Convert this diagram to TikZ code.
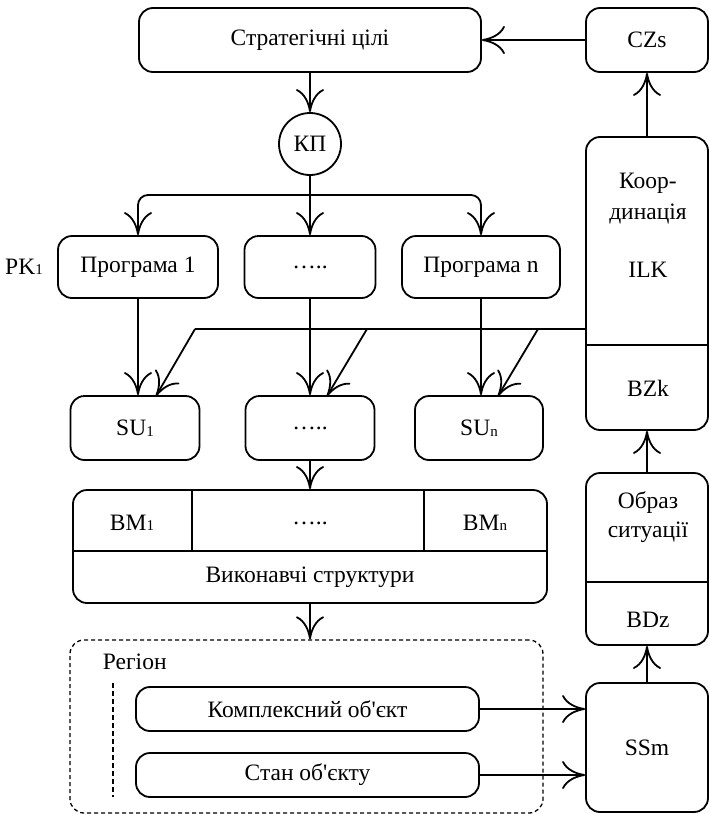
\documentclass[tikz,border=0pt]{standalone}
\usepackage{fontspec}
\setmainfont{Liberation Serif}
\newfontfamily\labelfont{Liberation Serif}
\usetikzlibrary{arrows.meta}
% small index digit/letter set on the baseline
\newcommand{\lowidx}[1]{\raisebox{-0.5pt}{\fontsize{15}{15}\selectfont #1}}
\begin{document}
\begin{tikzpicture}[x=1pt,y=-1pt,line width=1.8pt,
  font=\labelfont\fontsize{23.5}{28}\selectfont,
  blk/.style={draw,rounded corners=14pt,inner sep=0pt},
  lbl/.style={inner sep=0pt},
  arr/.style={-{Computer Modern Rightarrow[length=23pt,width=28pt]}}]
\useasboundingbox (0,0) rectangle (709,814);

% --- top: goals, programme cluster
\node[blk,minimum width=342pt,minimum height=64pt] (goals) at (310,40) {Стратегічні цілі};
\node[blk,minimum width=122pt,minimum height=64pt] (czs) at (647,40) {CZs};
\node[draw,circle,minimum size=62pt,inner sep=0pt] (kp) at (310,144) {КП};
\coordinate (split) at (310,195);

\node[lbl] (pk) at (24,267) {PK\lowidx{1}};
\node[blk,minimum width=160pt,minimum height=62pt] (prog1) at (138,267) {Програма 1};
\node[blk,minimum width=131pt,minimum height=62pt] (prog2) at (310,267) {…..};
\node[blk,minimum width=158pt,minimum height=62pt] (progn) at (481,267) {Програма n};

\node[blk,minimum width=129pt,minimum height=64pt] (su1) at (135,428) {SU\lowidx{1}};
\node[blk,minimum width=129pt,minimum height=64pt] (su2) at (310,428) {…..};
\node[blk,minimum width=128pt,minimum height=64pt] (sun) at (479,428) {SU\lowidx{n}};

% --- executive structures block
\node[blk,minimum width=474pt,minimum height=113pt] (bm) at (310,546.5) {};
\draw (73,551) -- (547,551);
\draw (192,490) -- (192,551);
\draw (424,490) -- (424,551);
\node[lbl] (bm1) at (132,523) {BM\lowidx{1}};
\node[lbl] (bmdots) at (310,523) {…..};
\node[lbl] (bmn) at (485,523) {BM\lowidx{n}};
\node[lbl] (exec) at (310,577) {Виконавчі структури};

% --- region
\node[draw,dash pattern=on 4pt off 3pt,line width=1.3pt,rounded corners=14pt,
      minimum width=473pt,minimum height=173pt,inner sep=0pt] (region) at (306.5,726.5) {};
\node[lbl,anchor=west] (regname) at (102,662) {Регіон};
\coordinate (vtop) at (113,683);
\coordinate (vbot) at (113,797);
\draw[dash pattern=on 5pt off 3pt,line width=1.4pt] (vtop) -- (vbot);
\node[blk,minimum width=343pt,minimum height=44pt] (komplex) at (307.5,709) {Комплексний об'єкт};
\node[blk,minimum width=343pt,minimum height=44pt] (stan) at (307.5,775) {Стан об'єкту};

% --- right column
\node[blk,minimum width=122pt,minimum height=293pt] (koord) at (647,283.5) {};
\draw (586,345) -- (708,345);
\node[lbl] (koordA) at (648,183) {Коор-};
\node[lbl] (koordB) at (648,214) {динація};
\node[lbl] (ilk) at (648,270) {ILK};
\node[lbl] (bzk) at (648,388) {BZk};

\node[blk,minimum width=122pt,minimum height=172pt] (obraz) at (647,559) {};
\draw (586,582) -- (708,582);
\node[lbl] (obrazA) at (648,503) {Образ};
\node[lbl] (obrazB) at (648,532) {ситуації};
\node[lbl] (bdz) at (648,620) {BDz};

\node[blk,minimum width=122pt,minimum height=129pt] (ssm) at (647,747.5) {SSm};

% --- connectors
\draw[arr] (czs) -- (goals);
\draw[arr] (goals) -- (kp);
\draw[arr] (kp) -- (prog2);
\draw[arr,rounded corners=10pt] (split) -| (prog1.north);
\draw[arr,rounded corners=10pt] (split) -| (progn.north);

\draw[arr] (prog1.south) -- (prog1.south |- su1.north);
\draw[arr] (prog2) -- (su2);
\draw[arr] (progn.south) -- (progn.south |- sun.north);

\coordinate (d1) at (195,329);
\coordinate (d2) at (367,329);
\coordinate (d3) at (538,329);
\coordinate (t1) at (156,396);
\coordinate (t2) at (327,396);
\coordinate (t3) at (498,396);
\draw (koord.west |- d1) -- (d1);
\draw[arr] (d1) -- (t1);
\draw[arr] (d2) -- (t2);
\draw[arr] (d3) -- (t3);

\draw[arr] (su2) -- (bm);
\draw[arr] (bm.south) -- (bm.south |- region.north);

\draw[arr] (komplex.east) -- (komplex.east -| ssm.west);
\draw[arr] (stan.east) -- (stan.east -| ssm.west);

\draw[arr] (ssm) -- (obraz);
\draw[arr] (obraz) -- (koord);
\draw[arr] (koord) -- (czs);
\end{tikzpicture}
\end{document}
